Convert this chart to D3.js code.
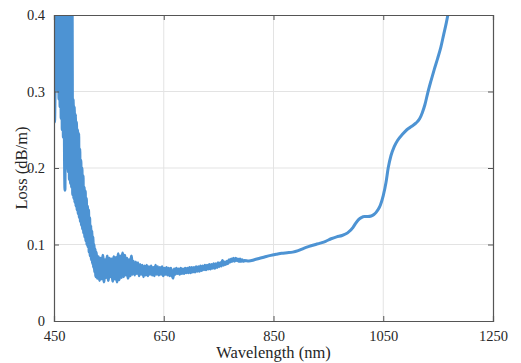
<!DOCTYPE html>
<html>
<head>
<meta charset="utf-8">
<script src="https://cdn.jsdelivr.net/npm/d3@7"></script>
<style>
  body { margin: 0; background: #fff; }
  svg text { font-family: 'Liberation Serif', 'Times New Roman', Times, 'DejaVu Serif', serif; fill: #262626; }
</style>
</head>
<body>
<div id="chart"></div>
<script>
// wavelength (nm) and loss (dB/m)
const wavelengths = [
  450, 451, 452, 453, 454, 455, 456, 457, 458, 459, 460, 461, 462, 463, 464, 465, 466, 467, 468, 469,
  470, 471, 472, 473, 474, 475, 476, 477, 478, 479, 480, 481, 482, 483, 484, 485, 486, 487, 488, 489,
  490, 491, 492, 493, 494, 495, 496, 497, 498, 499, 500, 501, 502, 503, 504, 505, 506, 507, 508, 509,
  510, 511, 512, 513, 514, 515, 516, 517, 518, 519, 520, 521, 522, 523, 524, 525, 526, 527,
  529, 531, 533, 535, 537, 539, 541, 543, 545, 547, 549, 551, 553, 555, 557, 559, 561, 563,
  565, 567, 569, 571, 573, 575, 577, 579, 581, 583, 585, 587, 589, 591, 593, 595, 597, 599, 601, 603,
  605, 607, 609, 611, 613, 615, 617, 619, 621, 623, 625, 627, 629, 631, 633, 635, 637, 639, 641, 643,
  645, 647, 649, 651, 653, 655, 657, 659, 661, 663, 665, 667, 669, 671, 673, 675, 677, 679, 681, 683,
  685, 687, 689, 691, 693, 695, 697, 699, 701, 703, 705, 707, 709, 711, 713, 715, 717, 719, 721, 723,
  725, 727, 729, 731, 733, 735, 737, 739, 741, 743, 745, 747, 749, 751, 753, 755, 757, 759, 761, 763,
  765, 767, 769, 771, 773, 775, 777, 779, 781, 783, 785, 787, 789, 791, 793, 795, 797,
  805, 815, 825, 835, 845, 855, 865, 875, 885, 895, 905, 915, 925, 935, 945, 955, 965, 975, 985, 995,
  1000, 1005, 1010, 1016, 1022, 1028, 1033, 1037, 1041, 1045, 1050, 1055, 1059, 1064, 1070, 1076, 1085,
  1093, 1102, 1110, 1116, 1121, 1126, 1131, 1137, 1143, 1149, 1155, 1160, 1165, 1169, 1172
];
const loss = [
  0.320, 0.260, 0.310, 0.450, 0.460, 0.305, 0.450, 0.300, 0.460, 0.290, 0.460, 0.280, 0.450, 0.265, 0.450, 0.250, 0.450, 0.240, 0.440, 0.230,
  0.171, 0.440, 0.210, 0.440, 0.200, 0.440, 0.195, 0.430, 0.185, 0.430, 0.180, 0.430, 0.175, 0.420, 0.165, 0.290, 0.160, 0.280, 0.155, 0.270,
  0.150, 0.260, 0.145, 0.250, 0.140, 0.245, 0.135, 0.225, 0.130, 0.210, 0.125, 0.200, 0.120, 0.190, 0.115, 0.175, 0.110, 0.170, 0.105, 0.160,
  0.100, 0.150, 0.097, 0.145, 0.090, 0.135, 0.085, 0.125, 0.080, 0.118, 0.075, 0.110, 0.070, 0.100, 0.064, 0.094, 0.058, 0.090,
  0.056, 0.084, 0.053, 0.082, 0.055, 0.086, 0.051, 0.080, 0.057, 0.085, 0.053, 0.082, 0.058, 0.081, 0.052, 0.084, 0.055, 0.083,
  0.051, 0.088, 0.054, 0.085, 0.057, 0.089, 0.058, 0.086, 0.060, 0.082, 0.056, 0.080, 0.059, 0.085, 0.061, 0.078, 0.060, 0.077, 0.062, 0.076,
  0.059, 0.074, 0.061, 0.073, 0.058, 0.072, 0.060, 0.073, 0.059, 0.071, 0.061, 0.072, 0.060, 0.070, 0.059, 0.073, 0.061, 0.071, 0.060, 0.070,
  0.061, 0.071, 0.059, 0.069, 0.061, 0.070, 0.060, 0.069, 0.059, 0.069, 0.061, 0.056, 0.068, 0.061, 0.069, 0.062, 0.068, 0.061, 0.069, 0.062,
  0.068, 0.062, 0.069, 0.063, 0.069, 0.063, 0.070, 0.063, 0.070, 0.064, 0.070, 0.064, 0.071, 0.065, 0.071, 0.065, 0.072, 0.066, 0.072, 0.067,
  0.073, 0.067, 0.073, 0.068, 0.074, 0.068, 0.074, 0.069, 0.075, 0.069, 0.075, 0.070, 0.076, 0.071, 0.076, 0.072, 0.079, 0.073, 0.077, 0.074,
  0.078, 0.075, 0.080, 0.077, 0.081, 0.078, 0.082, 0.078, 0.082, 0.079, 0.081, 0.078, 0.081, 0.078, 0.080, 0.078, 0.079,
  0.0785, 0.0800, 0.0820, 0.0840, 0.0858, 0.0872, 0.0885, 0.0892, 0.0900, 0.0920, 0.0950, 0.0975, 0.0997, 0.1018, 0.1042, 0.1075, 0.1100, 0.1118, 0.1152, 0.1225,
  0.1280, 0.1325, 0.1352, 0.1365, 0.1365, 0.1372, 0.1392, 0.1420, 0.1460, 0.1520, 0.1640, 0.1810, 0.2000, 0.2160, 0.2280, 0.2360, 0.2440,
  0.2500, 0.2545, 0.2590, 0.2640, 0.2720, 0.2830, 0.2980, 0.3140, 0.3290, 0.3430, 0.3580, 0.3740, 0.3900, 0.4050, 0.4180
];
const xTicks = [450, 650, 850, 1050, 1250];
const yTicks = [0, 0.1, 0.2, 0.3, 0.4];
const yTickLabels = ["0", "0.1", "0.2", "0.3", "0.4"];

const width = 521, height = 363;
const margin = { top: 15, right: 28, bottom: 42, left: 54 };
const innerW = width - margin.left - margin.right;
const innerH = height - margin.top - margin.bottom;
const serif = "'Liberation Serif', 'Times New Roman', Times, 'DejaVu Serif', serif";

const svg = d3.select('#chart').append('svg')
  .attr('width', width)
  .attr('height', height)
  .attr('font-family', serif);

const g = svg.append('g')
  .attr('transform', `translate(${margin.left},${margin.top})`);

const x = d3.scaleLinear().domain([450, 1250]).range([0, innerW]);
const y = d3.scaleLinear().domain([0, 0.4]).range([innerH, 0]);

// grid
g.append('g').selectAll('line').data(xTicks.slice(1, -1)).enter().append('line')
  .attr('x1', d => x(d)).attr('x2', d => x(d))
  .attr('y1', 0).attr('y2', innerH)
  .attr('stroke', '#e3e3e3').attr('stroke-width', 1);
g.append('g').selectAll('line').data(yTicks.slice(1, -1)).enter().append('line')
  .attr('x1', 0).attr('x2', innerW)
  .attr('y1', d => y(d)).attr('y2', d => y(d))
  .attr('stroke', '#e3e3e3').attr('stroke-width', 1);

// data line, clipped to the axes box
svg.append('defs').append('clipPath').attr('id', 'clip')
  .append('rect').attr('width', innerW).attr('height', innerH);

const points = wavelengths.map((w, i) => [w, loss[i]]);
const line = d3.line()
  .x(d => x(d[0]))
  .y(d => y(d[1]))
  .curve(d3.curveMonotoneX);

g.append('path')
  .datum(points)
  .attr('clip-path', 'url(#clip)')
  .attr('fill', 'none')
  .attr('stroke', '#4d93d3')
  .attr('stroke-width', 3)
  .attr('stroke-linejoin', 'round')
  .attr('d', line);

// axes (ticks pointing inward on all four sides)
const tickLen = 5;
const axisColor = '#555';

const xAxis = g.append('g')
  .attr('transform', `translate(0,${innerH})`)
  .call(d3.axisBottom(x).tickValues(xTicks).tickSize(-tickLen).tickPadding(tickLen + 5).tickFormat(d3.format('d')));
const xTop = g.append('g')
  .call(d3.axisTop(x).tickValues(xTicks).tickSize(-tickLen).tickFormat(''));
const yAxis = g.append('g')
  .call(d3.axisLeft(y).tickValues(yTicks).tickSize(-tickLen).tickPadding(tickLen + 4).tickFormat((d, i) => yTickLabels[i]));
const yRight = g.append('g')
  .attr('transform', `translate(${innerW},0)`)
  .call(d3.axisRight(y).tickValues(yTicks).tickSize(-tickLen).tickFormat(''));

[xAxis, xTop, yAxis, yRight].forEach(a => {
  a.attr('font-family', serif).attr('font-size', 14.5);
  a.select('.domain').attr('stroke', axisColor).attr('stroke-width', 1.2);
  a.selectAll('.tick line').attr('stroke', axisColor).attr('stroke-width', 1);
  a.selectAll('.tick text').attr('fill', '#262626');
});

// axis labels
svg.append('text')
  .attr('x', margin.left + innerW / 2)
  .attr('y', 358)
  .attr('text-anchor', 'middle')
  .attr('font-size', 16.5)
  .text('Wavelength (nm)');

svg.append('text')
  .attr('transform', `translate(27,${margin.top + innerH / 2}) rotate(-90)`)
  .attr('text-anchor', 'middle')
  .attr('font-size', 16.5)
  .text('Loss (dB/m)');
</script>
</body>
</html>
